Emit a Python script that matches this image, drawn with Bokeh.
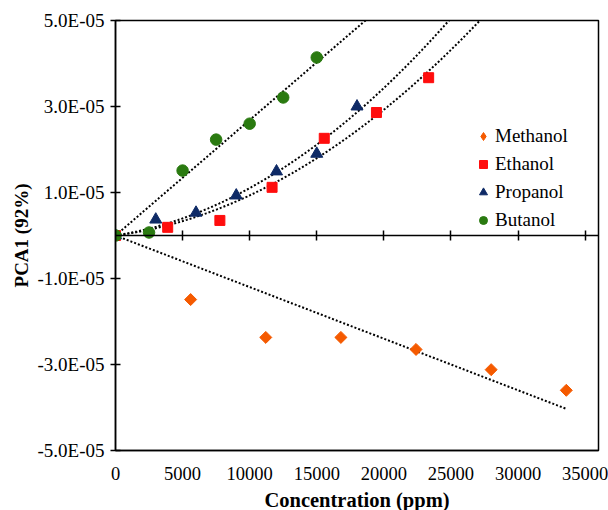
import numpy as np
from bokeh.plotting import figure
from bokeh.models import (LinearAxis, FixedTicker, CustomJSTickFormatter, Legend,
                          LegendItem, Range1d)
from bokeh.embed import file_html
from bokeh.resources import INLINE

# ---- data ----
methanol_x = [0, 5600, 11200, 16800, 22400, 28000, 33600]
methanol_y = [0, -1.49e-5, -2.37e-5, -2.37e-5, -2.65e-5, -3.12e-5, -3.60e-5]
ethanol_x = [0, 3890, 7780, 11670, 15560, 19450, 23340]
ethanol_y = [0, 0.19e-5, 0.35e-5, 1.12e-5, 2.26e-5, 2.86e-5, 3.67e-5]
propanol_x = [0, 3000, 6000, 9000, 12000, 15000, 18000]
propanol_y = [0, 0.37e-5, 0.53e-5, 0.93e-5, 1.49e-5, 1.90e-5, 3.00e-5]
butanol_x = [0, 2500, 5000, 7500, 10000, 12500, 15000]
butanol_y = [0, 0.07e-5, 1.51e-5, 2.23e-5, 2.60e-5, 3.21e-5, 4.14e-5]

x_ticks = [0, 5000, 10000, 15000, 20000, 25000, 30000, 35000]
y_ticks = [-5e-5, -3e-5, -1e-5, 1e-5, 3e-5, 5e-5]

FONT = "Liberation Serif"

p = figure(frame_width=483, frame_height=430, output_backend="svg", toolbar_location=None,
           x_range=Range1d(0, 36000), y_range=Range1d(-5e-5, 5e-5),
           x_axis_type=None, y_axis_type=None,
           min_border_left=115, min_border_right=10, min_border_top=20, min_border_bottom=60)
p.grid.visible = False
p.outline_line_color = "black"
p.outline_line_width = 1.5
p.background_fill_color = "white"
p.border_fill_color = "white"

# bottom axis with labels only
xb = LinearAxis(ticker=FixedTicker(ticks=x_ticks), axis_label="Concentration (ppm)")
xb.major_tick_in = 0
xb.major_tick_out = 0
xb.minor_tick_line_color = None
xb.axis_line_color = "black"
xb.axis_line_width = 1.5
xb.major_label_text_font = FONT
xb.major_label_text_font_size = "18.5px"
xb.major_label_text_color = "black"
xb.major_label_standoff = 16
xb.axis_label_text_font = FONT
xb.axis_label_text_font_style = "bold"
xb.axis_label_text_font_size = "20.5px"
xb.axis_label_text_color = "black"
xb.axis_label_standoff = 6
p.add_layout(xb, "below")

# axis through zero with crossing ticks
x0 = LinearAxis(ticker=FixedTicker(ticks=x_ticks), fixed_location=0)
x0.major_tick_in = 5
x0.major_tick_out = 5
x0.minor_tick_line_color = None
x0.axis_line_width = 1.5
x0.major_tick_line_width = 1.5
x0.major_label_text_font_size = "0px"
x0.major_label_text_color = None
p.add_layout(x0, "below")

fmt = CustomJSTickFormatter(code="""
const s = tick.toExponential(1);
const parts = s.split('e');
const e = parseInt(parts[1]);
const d = String(Math.abs(e)).padStart(2, '0');
return parts[0] + 'E' + (e < 0 ? '-' : '+') + d;
""")
ya = LinearAxis(ticker=FixedTicker(ticks=y_ticks), formatter=fmt, axis_label="PCA1 (92%)")
ya.major_tick_in = 5
ya.major_tick_out = 5
ya.minor_tick_line_color = None
ya.axis_line_width = 1.5
ya.major_tick_line_width = 1.5
ya.major_label_text_font = FONT
ya.major_label_text_font_size = "19px"
ya.major_label_text_color = "black"
ya.major_label_standoff = 6
ya.axis_label_text_font = FONT
ya.axis_label_text_font_style = "bold"
ya.axis_label_text_font_size = "19px"
ya.axis_label_text_color = "black"
ya.axis_label_standoff = 2
p.add_layout(ya, "left")


def fit_through_origin(x, y, deg):
    x = np.asarray(x, float)
    y = np.asarray(y, float)
    A = np.column_stack([x ** k for k in range(deg, 0, -1)])
    coef, *_ = np.linalg.lstsq(A, y, rcond=None)
    return coef


def trend(x, y, deg, x_end):
    coef = fit_through_origin(x, y, deg)
    xs = np.linspace(0, x_end, 200)
    ys = sum(c * xs ** k for c, k in zip(coef, range(deg, 0, -1)))
    p.line(xs, ys, line_color="black", line_width=2, line_dash="2 2")


trend(methanol_x, methanol_y, 1, max(methanol_x))
trend(ethanol_x, ethanol_y, 2, 32000)
trend(propanol_x, propanol_y, 2, 32000)
trend(butanol_x, butanol_y, 1, 25000)

M_COLOR = "#F55A00"
# diamond renderer (sits inside the rotated squares) provides the legend swatch
r_m_leg = p.scatter(methanol_x, methanol_y, marker="diamond", size=9, color=M_COLOR)
p.scatter(methanol_x, methanol_y, marker="square", angle=np.pi / 4, size=8.5, color=M_COLOR)
r_e = p.scatter(ethanol_x, ethanol_y, marker="square", size=10, color="#FF0D0D")
r_p = p.scatter(propanol_x, propanol_y, marker="triangle", size=12, color="#0E2A66")
r_b = p.scatter(butanol_x, butanol_y, marker="circle", size=11.5, color="#2A7A10")

legend = Legend(items=[
    LegendItem(label="Methanol", renderers=[r_m_leg]),
    LegendItem(label="Ethanol", renderers=[r_e]),
    LegendItem(label="Propanol", renderers=[r_p]),
    LegendItem(label="Butanol", renderers=[r_b]),
], location=(358, 216))
legend.border_line_color = None
legend.background_fill_alpha = 0
legend.label_text_font = FONT
legend.label_text_font_size = "19px"
legend.label_text_color = "black"
legend.glyph_width = 20
legend.glyph_height = 20
legend.label_height = 28
legend.label_standoff = 2
legend.spacing = 0
legend.padding = 0
legend.margin = 0
p.add_layout(legend, "center")

open("out.html", "w").write(file_html(p, INLINE))
